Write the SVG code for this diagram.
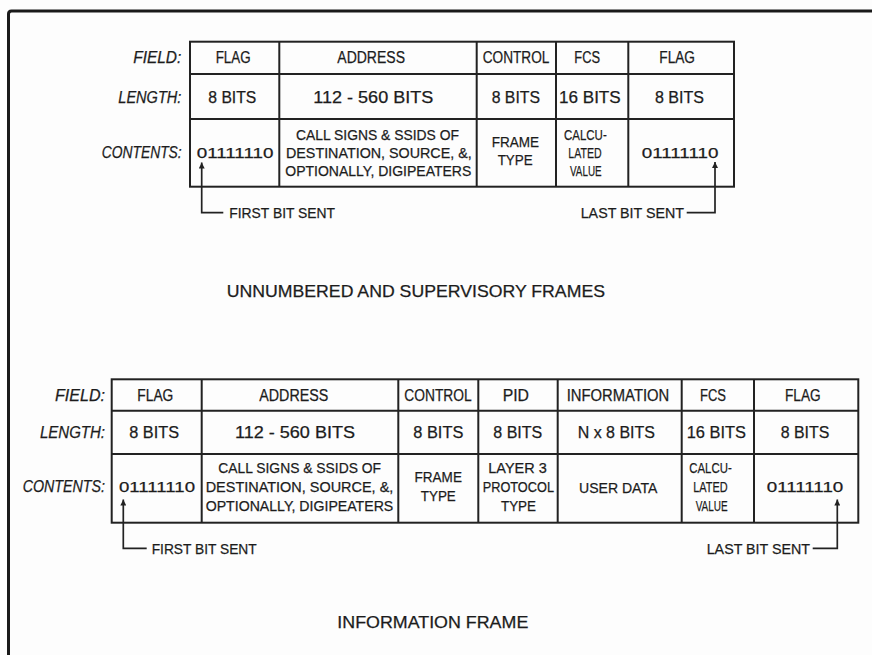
<svg xmlns="http://www.w3.org/2000/svg" width="872" height="655" viewBox="0 0 872 655">
<style>
text{font-family:"Liberation Sans",Arial,sans-serif;fill:#1c1c1c;stroke:#1c1c1c;stroke-width:0.25;}
.h{font-size:16px;}
.c{font-size:15px;}
.lab{font-size:16px;font-style:italic;}
.t{font-size:16.5px;}
.grid{fill:none;stroke:#222;stroke-width:2;}
.conn{fill:none;stroke:#222;stroke-width:1.7;}
</style>
<defs>
<marker id="ah" viewBox="0 0 10 10" refX="10" refY="5" markerWidth="8" markerHeight="6" markerUnits="userSpaceOnUse" orient="auto-start-reverse">
<path d="M0,0 L10,5 L0,10 z" fill="#222"/>
</marker>
</defs>
<rect width="872" height="655" fill="#fdfdfd"/>
<path d="M8.5,655 L8.5,14 Q8.5,11 11.5,11 L872,11" fill="none" stroke="#1a1a1a" stroke-width="3"/>

<!-- TOP TABLE -->
<g id="top-labels">
<text class="lab" x="133.3" y="63" textLength="48" lengthAdjust="spacingAndGlyphs">FIELD:</text>
<text class="lab" x="118.3" y="102.7" textLength="63" lengthAdjust="spacingAndGlyphs">LENGTH:</text>
<text class="lab" x="101.7" y="158.3" textLength="80" lengthAdjust="spacingAndGlyphs">CONTENTS:</text>
</g>
<g id="top-grid">
<rect class="grid" x="190" y="41.7" width="544" height="145"/>
<path class="grid" d="M190,74 H734 M190,119 H734 M279.3,41.7 V186.7 M476.7,41.7 V186.7 M556,41.7 V186.7 M628.3,41.7 V186.7"/>
</g>
<g id="top-flag1">
<text class="h" x="215.7" y="63" textLength="35" lengthAdjust="spacingAndGlyphs">FLAG</text>
<text class="h" x="208.3" y="102.7" textLength="48" lengthAdjust="spacingAndGlyphs">8 BITS</text>
<text class="c" x="196.7" y="158.3" textLength="76.7" lengthAdjust="spacingAndGlyphs">01111110</text>
</g>
<g id="top-address">
<text class="h" x="337.3" y="63" textLength="67.7" lengthAdjust="spacingAndGlyphs">ADDRESS</text>
<text class="h" x="313.3" y="102.7" textLength="120" lengthAdjust="spacingAndGlyphs">112 - 560 BITS</text>
<text class="c" x="296" y="140" textLength="163" lengthAdjust="spacingAndGlyphs">CALL SIGNS &amp; SSIDS OF</text>
<text class="c" x="286" y="158.3" textLength="185.7" lengthAdjust="spacingAndGlyphs">DESTINATION, SOURCE, &amp;,</text>
<text class="c" x="285.3" y="176" textLength="186" lengthAdjust="spacingAndGlyphs">OPTIONALLY, DIGIPEATERS</text>
</g>
<g id="top-control">
<text class="h" x="482.7" y="63" textLength="66.7" lengthAdjust="spacingAndGlyphs">CONTROL</text>
<text class="h" x="491.7" y="102.7" textLength="48.3" lengthAdjust="spacingAndGlyphs">8 BITS</text>
<text class="c" x="491.7" y="146.7" textLength="47.3" lengthAdjust="spacingAndGlyphs">FRAME</text>
<text class="c" x="497.7" y="165" textLength="35" lengthAdjust="spacingAndGlyphs">TYPE</text>
</g>
<g id="top-fcs">
<text class="h" x="574.3" y="63" textLength="25.7" lengthAdjust="spacingAndGlyphs">FCS</text>
<text class="h" x="559" y="102.7" textLength="61.7" lengthAdjust="spacingAndGlyphs">16 BITS</text>
<text class="c" x="564" y="140" textLength="42.7" lengthAdjust="spacingAndGlyphs">CALCU-</text>
<text class="c" x="568.3" y="158.3" textLength="33.3" lengthAdjust="spacingAndGlyphs">LATED</text>
<text class="c" x="570" y="176" textLength="31.7" lengthAdjust="spacingAndGlyphs">VALUE</text>
</g>
<g id="top-flag2">
<text class="h" x="659.3" y="63" textLength="35.7" lengthAdjust="spacingAndGlyphs">FLAG</text>
<text class="h" x="655" y="102.7" textLength="49" lengthAdjust="spacingAndGlyphs">8 BITS</text>
<text class="c" x="641.7" y="158.3" textLength="76.7" lengthAdjust="spacingAndGlyphs">01111110</text>
</g>
<g id="top-first-bit">
<text class="c" x="229.3" y="218.3" textLength="105.7" lengthAdjust="spacingAndGlyphs">FIRST BIT SENT</text>
</g>
<g id="top-last-bit">
<text class="c" x="580.7" y="218.3" textLength="103.3" lengthAdjust="spacingAndGlyphs">LAST BIT SENT</text>
</g>
<g id="title-top">
<text class="t" x="226.7" y="296.7" textLength="378.3" lengthAdjust="spacingAndGlyphs">UNNUMBERED AND SUPERVISORY FRAMES</text>
</g>

<!-- BOTTOM TABLE -->
<g id="bot-labels">
<text class="lab" x="55" y="400.7" textLength="50" lengthAdjust="spacingAndGlyphs">FIELD:</text>
<text class="lab" x="40" y="438.3" textLength="65" lengthAdjust="spacingAndGlyphs">LENGTH:</text>
<text class="lab" x="22.7" y="492.3" textLength="82.3" lengthAdjust="spacingAndGlyphs">CONTENTS:</text>
</g>
<g id="bot-grid">
<rect class="grid" x="111.7" y="379.3" width="746.6" height="143.4"/>
<path class="grid" d="M111.7,410.7 H858.3 M111.7,454 H858.3 M201.7,379.3 V522.7 M398.3,379.3 V522.7 M478.3,379.3 V522.7 M557.7,379.3 V522.7 M681.7,379.3 V522.7 M754,379.3 V522.7"/>
</g>
<g id="bot-flag1">
<text class="h" x="137.3" y="400.7" textLength="36" lengthAdjust="spacingAndGlyphs">FLAG</text>
<text class="h" x="129.3" y="438.3" textLength="49.7" lengthAdjust="spacingAndGlyphs">8 BITS</text>
<text class="c" x="119" y="492.3" textLength="76" lengthAdjust="spacingAndGlyphs">01111110</text>
</g>
<g id="bot-address">
<text class="h" x="259.3" y="400.7" textLength="69" lengthAdjust="spacingAndGlyphs">ADDRESS</text>
<text class="h" x="235" y="438.3" textLength="120" lengthAdjust="spacingAndGlyphs">112 - 560 BITS</text>
<text class="c" x="218.3" y="473.3" textLength="162.7" lengthAdjust="spacingAndGlyphs">CALL SIGNS &amp; SSIDS OF</text>
<text class="c" x="205.7" y="492.3" textLength="187.6" lengthAdjust="spacingAndGlyphs">DESTINATION, SOURCE, &amp;,</text>
<text class="c" x="205.7" y="510.7" textLength="187.6" lengthAdjust="spacingAndGlyphs">OPTIONALLY, DIGIPEATERS</text>
</g>
<g id="bot-control">
<text class="h" x="404.3" y="400.7" textLength="67.4" lengthAdjust="spacingAndGlyphs">CONTROL</text>
<text class="h" x="413.3" y="438.3" textLength="50" lengthAdjust="spacingAndGlyphs">8 BITS</text>
<text class="c" x="414.6" y="482.3" textLength="47.3" lengthAdjust="spacingAndGlyphs">FRAME</text>
<text class="c" x="420.8" y="500.7" textLength="35" lengthAdjust="spacingAndGlyphs">TYPE</text>
</g>
<g id="bot-pid">
<text class="h" x="502.7" y="400.7" textLength="26.3" lengthAdjust="spacingAndGlyphs">PID</text>
<text class="h" x="493.3" y="438.3" textLength="49" lengthAdjust="spacingAndGlyphs">8 BITS</text>
<text class="c" x="488.3" y="473.3" textLength="58.4" lengthAdjust="spacingAndGlyphs">LAYER 3</text>
<text class="c" x="482.7" y="492.3" textLength="71.3" lengthAdjust="spacingAndGlyphs">PROTOCOL</text>
<text class="c" x="501" y="510.7" textLength="35" lengthAdjust="spacingAndGlyphs">TYPE</text>
</g>
<g id="bot-information">
<text class="h" x="566.7" y="400.7" textLength="102.6" lengthAdjust="spacingAndGlyphs">INFORMATION</text>
<text class="h" x="577.7" y="438.3" textLength="77.3" lengthAdjust="spacingAndGlyphs">N x 8 BITS</text>
<text class="c" x="579" y="493.3" textLength="78.3" lengthAdjust="spacingAndGlyphs">USER DATA</text>
</g>
<g id="bot-fcs">
<text class="h" x="700" y="400.7" textLength="26" lengthAdjust="spacingAndGlyphs">FCS</text>
<text class="h" x="686.7" y="438.3" textLength="59.3" lengthAdjust="spacingAndGlyphs">16 BITS</text>
<text class="c" x="689.3" y="473.3" textLength="42.4" lengthAdjust="spacingAndGlyphs">CALCU-</text>
<text class="c" x="693.3" y="492.3" textLength="34.4" lengthAdjust="spacingAndGlyphs">LATED</text>
<text class="c" x="695.7" y="510.7" textLength="32" lengthAdjust="spacingAndGlyphs">VALUE</text>
</g>
<g id="bot-flag2">
<text class="h" x="785" y="400.7" textLength="35.7" lengthAdjust="spacingAndGlyphs">FLAG</text>
<text class="h" x="780.7" y="438.3" textLength="48.6" lengthAdjust="spacingAndGlyphs">8 BITS</text>
<text class="c" x="766.7" y="492.3" textLength="76.6" lengthAdjust="spacingAndGlyphs">01111110</text>
</g>
<g id="bot-first-bit">
<text class="c" x="151.7" y="554" textLength="105" lengthAdjust="spacingAndGlyphs">FIRST BIT SENT</text>
</g>
<g id="bot-last-bit">
<text class="c" x="706.7" y="554" textLength="103.3" lengthAdjust="spacingAndGlyphs">LAST BIT SENT</text>
</g>
<g id="title-bottom">
<text class="t" x="337.3" y="628.3" textLength="191" lengthAdjust="spacingAndGlyphs">INFORMATION FRAME</text>
</g>

<g id="connectors">
<path class="conn" marker-start="url(#ah)" d="M201.7,162.5 V212.7 H223.3"/>
<path class="conn" marker-start="url(#ah)" d="M715,162 V212.7 H686.7"/>
<path class="conn" marker-start="url(#ah)" d="M123.3,499.5 V548.3 H146.7"/>
<path class="conn" marker-start="url(#ah)" d="M837.3,499.5 V548.3 H812.7"/>
</g>
</svg>
